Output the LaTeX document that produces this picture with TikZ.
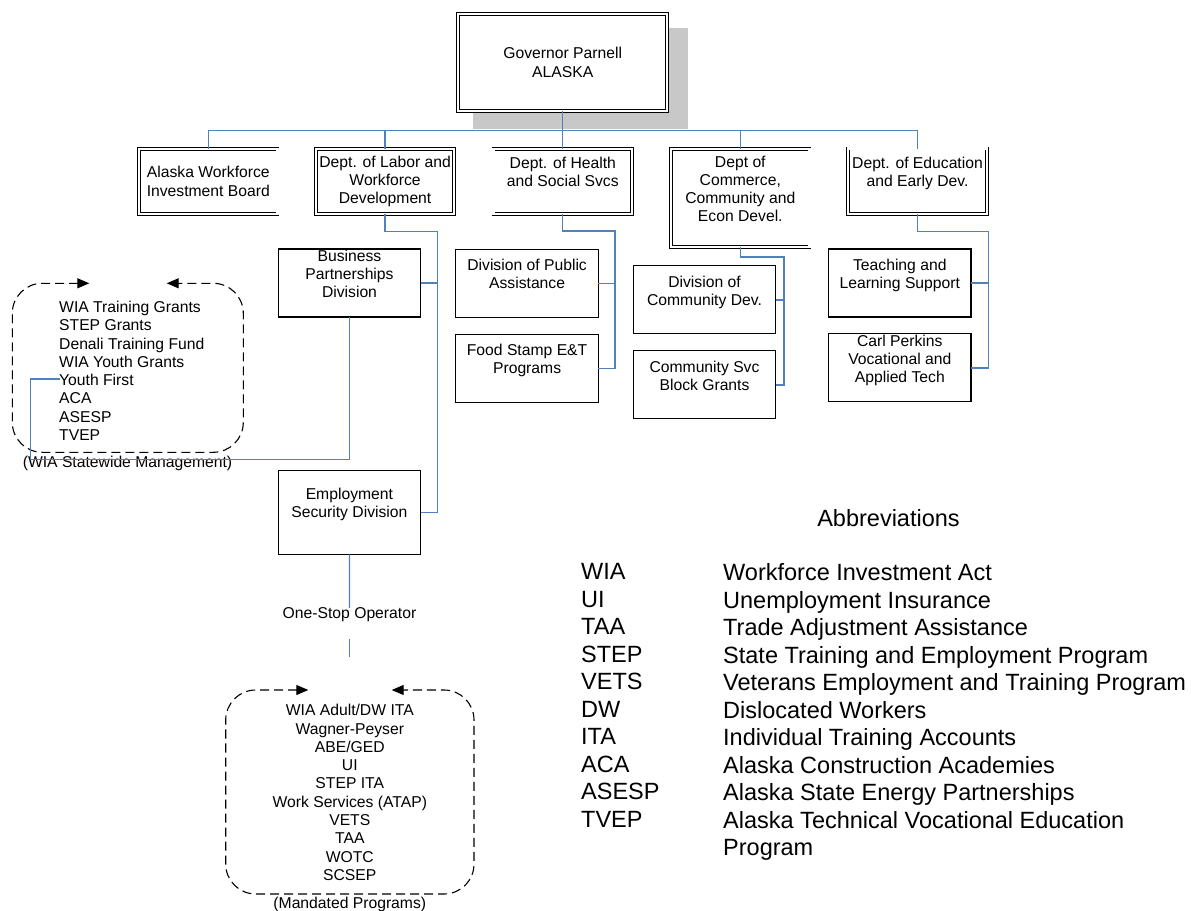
\documentclass[tikz,border=0pt]{standalone}
\usepackage{fontspec}
\setmainfont{Liberation Sans}
\usetikzlibrary{arrows.meta}

\begin{document}
\begin{tikzpicture}[x=1pt,y=-1pt,line cap=rect,
  deptbox/.style={draw=custcol_0_0_0, double, double distance=2.2pt, line width=0.8pt, fill=white, inner sep=0, align=center, minimum width=138.5, minimum height=65.3, font=\fontsize{15.7}{18.3}\selectfont},
  divbox/.style={draw=custcol_0_0_0, line width=1.1pt, fill=white, inner sep=0, align=center, minimum width=142.4, minimum height=68, font=\fontsize{15.7}{18.3}\selectfont},
  conn/.style={draw=custcol_4f_81_bd, line width=1.3pt},
  dashbox/.style={draw=custcol_0_0_0, line width=1.1pt, dash pattern=on 8pt off 6pt, rounded corners=30pt, {Triangle[length=12pt,width=10pt]}-{Triangle[length=12pt,width=10pt]}},
  listtext/.style={inner sep=0, font=\fontsize{15.7}{18.3}\selectfont},
  abbrtext/.style={inner sep=0, align=left, font=\fontsize{23.5}{27.5}\selectfont}]
\useasboundingbox (0,0) rectangle (1191,910);
\definecolor{custcol_0_0_0}{RGB}{0, 0, 0}
\definecolor{custcol_4f_81_bd}{RGB}{79, 129, 189}
\definecolor{custcol_c8_c8_c8}{RGB}{200, 200, 200}
\fill [custcol_c8_c8_c8] (473.4,27.7) rectangle (687.6,129.0);
\node[deptbox, minimum width=208.7, minimum height=97.3] (gov) at (562.7,62.4) {Governor Parnell\\ALASKA};
\node[deptbox] (board) at (208.3,181.3) {Alaska Workforce\\Investment Board};
\node[deptbox] (labor) at (385.1,181.3) {Dept. of Labor and\\Workforce\\Development};
\node[deptbox] (health) at (562.8,181.3) {Dept. of Health\\and Social Svcs\\\mbox{}};
\node[deptbox, minimum height=98.6] (commerce) at (740.3,198.0) {Dept of\\Commerce,\\Community and\\Econ Devel.\\\mbox{}};
\node[deptbox] (edu) at (917.5,181.2) {Dept. of Education\\and Early Dev.\\\mbox{}};
\node[divbox] (business) at (349.5,283.0) {Business\\Partnerships\\Division\\\mbox{}};
\node[divbox, minimum height=84.3] (employ) at (349.4,512.2) {Employment\\Security Division\\\mbox{}};
\node[divbox] (pubassist) at (527.1,283.3) {Division of Public\\Assistance\\\mbox{}};
\node[divbox] (foodstamp) at (527.1,368.2) {Food Stamp E\&T\\Programs\\\mbox{}};
\node[divbox] (commdev) at (704.5,299.9) {Division of\\Community Dev.\\\mbox{}};
\node[divbox] (blockgrant) at (704.5,384.9) {Community Svc\\Block Grants\\\mbox{}};
\node[divbox] (teaching) at (899.8,283.0) {Teaching and\\Learning Support\\\mbox{}};
\node[divbox] (perkins) at (899.8,367.9) {Carl Perkins\\Vocational and\\Applied Tech\\\mbox{}};
\coordinate (bus) at (562.7,130.7);
\draw [conn] (gov.south) -- (bus);
\draw [conn] (board.north) |- (bus) -| (edu.north);
\draw [conn] (labor.north) -- (labor.north |- bus);
\draw [conn] (health.north) -- (health.north |- bus);
\draw [conn] (commerce.north) -- (commerce.north |- bus);
\coordinate (laborbus) at (437.7,231.7);
\draw [conn] (labor.south) |- (laborbus) |- (employ.east);
\draw [conn] (business.east) -- (business.east -| laborbus);
\coordinate (healthbus) at (615.0,231.0);
\draw [conn] (health.south) |- (healthbus) |- (foodstamp.east);
\draw [conn] (pubassist.east) -- (pubassist.east -| healthbus);
\coordinate (commercebus) at (784.0,257.0);
\draw [conn] (commerce.south) |- (commercebus) |- (blockgrant.east);
\draw [conn] (commdev.east) -- (commdev.east -| commercebus);
\coordinate (edubus) at (988.2,231.7);
\draw [conn] (edu.south) |- (edubus) |- (perkins.east);
\draw [conn] (teaching.east) -- (teaching.east -| edubus);
\draw [dashbox] (89.3,283.3) -- (12.3,283.3) -- (12.3,452.3) -- (243.3,452.3) -- (243.3,283.3) -- (166.7,283.3);
\node[listtext, align=left, anchor=north west] (wialist) at (59.0,300.9) {WIA Training Grants\\STEP Grants\\Denali Training Fund\\WIA Youth Grants\\Youth First\\ACA\\ASESP\\TVEP};
\node[listtext, anchor=base] (wialabel) at (127.5,467.9) {(WIA Statewide Management)};
\coordinate (youthfirst) at (59.0,379.0);
\coordinate (wiacorner) at (30.7,459.3);
\draw [conn] (business.south) |- (wiacorner) |- (youthfirst);
\node[listtext, anchor=base] (onestop) at (349.5,618.3) {One-Stop Operator};
\draw [conn] (employ.south) -- (onestop.north);
\coordinate (optop) at (349.5,639.3);
\coordinate (opbot) at (349.5,656.7);
\draw [conn] (optop) -- (opbot);
\draw [dashbox] (308.3,690.0) -- (225.7,690.0) -- (225.7,894.0) -- (474.0,894.0) -- (474.0,690.0) -- (391.7,690.0);
\node[listtext, align=center, anchor=north] (mandlist) at (349.8,704.2) {WIA Adult/DW ITA\\Wagner-Peyser\\ABE/GED\\UI\\STEP ITA\\Work Services (ATAP)\\VETS\\TAA\\WOTC\\SCSEP};
\node[listtext, anchor=base] (mandlabel) at (349.8,908.3) {(Mandated Programs)};
\node[abbrtext, anchor=base] (abbrtitle) at (888.5,526.4) {Abbreviations};
\node[abbrtext, anchor=north west] (abbrkeys) at (581.0,563.5) {WIA\\UI\\TAA\\STEP\\VETS\\DW\\ITA\\ACA\\ASESP\\TVEP};
\node[abbrtext, anchor=north west] (abbrdefs) at (723.0,563.5) {Workforce Investment Act\\Unemployment Insurance\\Trade Adjustment Assistance\\State Training and Employment Program\\Veterans Employment and Training Program\\Dislocated Workers\\Individual Training Accounts\\Alaska Construction Academies\\Alaska State Energy Partnerships\\Alaska Technical Vocational Education\\Program};
\end{tikzpicture}
\end{document}
